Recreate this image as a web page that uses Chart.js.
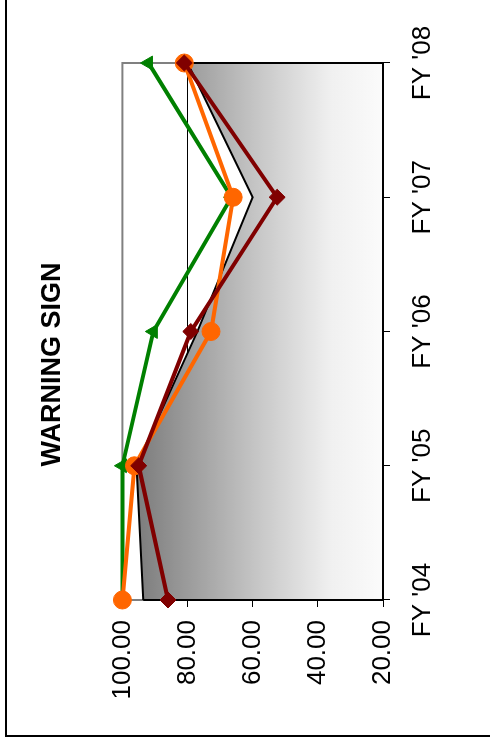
<!DOCTYPE html>
<html><head><meta charset="utf-8">
<script src="https://cdn.jsdelivr.net/npm/chart.js@4.4.0/dist/chart.umd.min.js"></script>
<style>
html,body{margin:0;padding:0;overflow:hidden;background:#fff;width:490px;height:740px;}
#rot{position:absolute;left:0;top:0;width:740px;height:490px;transform-origin:0 0;transform:translate(0,740px) rotate(-90deg);overflow:hidden;background:#fff;}
#frame{position:absolute;left:3px;top:5px;width:800px;height:600px;border:2px solid #000;box-sizing:border-box;}
canvas{position:absolute;left:0;top:0;}
</style></head><body>
<div id="rot"><div id="frame"></div><canvas id="c" width="740" height="490"></canvas></div>
<script>
const categories = ["FY '04", "FY '05", "FY '06", "FY '07", "FY '08"];
const benchmarkArea = [93.6, 95.7, 77, 60, 80];
const greenSeries = [100, 100, 90.5, 66.5, 92];
const orangeSeries = [100, 96.3, 72.8, 66, 81];
const redSeries = [86, 95, 79, 52.5, 81];
const valueTicks = [20, 40, 60, 80, 100];
const valueTickLabels = ["20.00", "40.00", "60.00", "80.00", "100.00"];
const chartTitle = "WARNING SIGN";

Chart.defaults.font.family = "'Liberation Sans', Arial, sans-serif";
Chart.defaults.color = '#000';

const plotBorder = {
  id: 'plotBorder',
  beforeDatasetsDraw(chart) {
    const a = chart.chartArea, ctx = chart.ctx;
    ctx.save();
    ctx.strokeStyle = '#808080';
    ctx.lineWidth = 2;
    ctx.strokeRect(a.left, a.top, a.right - a.left, a.bottom - a.top);
    ctx.restore();
  }
};
const areaOutline = {
  id: 'areaOutline',
  afterDatasetDraw(chart, args) {
    if (args.index !== 3) return;
    const pts = args.meta.data, a = chart.chartArea, ctx = chart.ctx;
    const f = pts[0], l = pts[pts.length - 1];
    ctx.save();
    ctx.strokeStyle = '#000';
    ctx.lineWidth = 2;
    ctx.beginPath();
    ctx.moveTo(f.x, f.y);
    ctx.lineTo(f.x, a.bottom);
    ctx.lineTo(l.x, a.bottom);
    ctx.lineTo(l.x, l.y);
    ctx.stroke();
    ctx.restore();
  }
};

new Chart(document.getElementById('c'), {
  type: 'line',
  data: {
    labels: categories,
    datasets: [
      { label: 'A', data: redSeries, borderColor: '#800000', backgroundColor: '#800000', borderWidth: 4,
        pointStyle: 'rectRot', pointRadius: 8, pointBackgroundColor: '#800000', pointBorderColor: '#800000',
        pointBorderWidth: 1, fill: false, tension: 0, clip: false },
      { label: 'B', data: orangeSeries, borderColor: '#FF6600', backgroundColor: '#FF6600', borderWidth: 4,
        pointStyle: 'circle', pointRadius: 9, pointBackgroundColor: '#FF6600', pointBorderColor: '#FF6600',
        pointBorderWidth: 1, fill: false, tension: 0, clip: false },
      { label: 'C', data: greenSeries, borderColor: '#008000', backgroundColor: '#008000', borderWidth: 4,
        pointStyle: 'triangle', pointRadius: 8, pointBackgroundColor: '#008000', pointBorderColor: '#008000',
        pointBorderWidth: 1, fill: false, tension: 0, clip: false },
      { label: 'D', data: benchmarkArea, borderColor: '#000', borderWidth: 2, pointRadius: 0, tension: 0,
        fill: 'start',
        backgroundColor: (ctx) => {
          const ch = ctx.chart, a = ch.chartArea;
          if (!a) return '#aaa';
          const g = ch.ctx.createLinearGradient(0, a.top, 0, a.bottom);
          g.addColorStop(0, '#767676');
          g.addColorStop(0.08, '#808080');
          g.addColorStop(0.53, '#c8c8c8');
          g.addColorStop(0.8, '#f0f0f0');
          g.addColorStop(1, '#fbfbfb');
          return g;
        } }
    ]
  },
  options: {
    responsive: false,
    animation: false,
    events: [],
    layout: { padding: { left: 11, right: 0, top: 0, bottom: 0 } },
    plugins: {
      legend: { display: false },
      tooltip: { enabled: false },
      title: { display: true, text: chartTitle, color: '#000',
        font: { size: 27, weight: 'bold' }, padding: { top: 36, bottom: 54 } }
    },
    scales: {
      x: {
        type: 'category', offset: false,
        grid: { display: true, drawOnChartArea: false, tickLength: 7, tickColor: '#000', lineWidth: 1 },
        border: { display: false },
        ticks: { color: '#000', font: { size: 26 }, padding: 17, maxRotation: 0, autoSkip: false },
        afterFit(s) { s.height = 107; }
      },
      y: {
        type: 'linear', min: 20, max: 100,
        afterBuildTicks(s) { s.ticks = valueTicks.map(v => ({ value: v })); },
        grid: {
          color: (c) => (c.tick && (c.tick.value === 100 || c.tick.value === 20)) ? 'rgba(0,0,0,0)' : '#000',
          lineWidth: 1, tickLength: 7, tickColor: '#000'
        },
        border: { display: false },
        ticks: { color: '#000', font: { size: 26 }, padding: 13,
          callback: (v) => valueTickLabels[valueTicks.indexOf(v)] },
        afterFit(s) { s.width = 129; }
      },
      ySpacer: {
        type: 'linear', position: 'right', min: 20, max: 100,
        grid: { display: false }, border: { display: false }, ticks: { display: false },
        afterFit(s) { s.width = 63; }
      }
    }
  },
  plugins: [plotBorder, areaOutline]
});
</script>
</body></html>
